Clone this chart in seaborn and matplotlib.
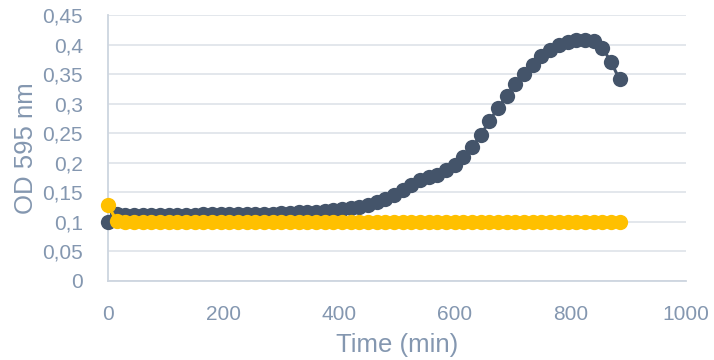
import matplotlib
matplotlib.use("Agg")
import matplotlib.pyplot as plt
import seaborn as sns
import pandas as pd

time_min = [0, 15, 30, 45, 60, 75, 90, 105, 120, 135, 150, 165, 180, 195, 210,
            225, 240, 255, 270, 285, 300, 315, 330, 345, 360, 375, 390, 405, 420, 435,
            450, 465, 480, 495, 510, 525, 540, 555, 570, 585, 600, 615, 630, 645, 660,
            675, 690, 705, 720, 735, 750, 765, 780, 795, 810, 825, 840, 855, 870, 885]

od_dark = [0.100, 0.113, 0.112, 0.112, 0.112, 0.112, 0.112, 0.112, 0.112, 0.112,
           0.112, 0.113, 0.113, 0.113, 0.113, 0.113, 0.113, 0.114, 0.114, 0.114,
           0.115, 0.115, 0.116, 0.116, 0.117, 0.118, 0.120, 0.122, 0.124, 0.126,
           0.129, 0.133, 0.139, 0.146, 0.154, 0.163, 0.171, 0.176, 0.180, 0.188,
           0.197, 0.209, 0.226, 0.247, 0.271, 0.293, 0.313, 0.333, 0.350, 0.366,
           0.380, 0.391, 0.399, 0.405, 0.408, 0.408, 0.406, 0.395, 0.371, 0.341]

od_yellow = [0.128, 0.102, 0.100, 0.099, 0.099, 0.099, 0.099, 0.099, 0.099, 0.099,
             0.099, 0.099, 0.099, 0.099, 0.099, 0.099, 0.099, 0.099, 0.099, 0.099,
             0.099, 0.099, 0.099, 0.099, 0.099, 0.099, 0.099, 0.099, 0.099, 0.099,
             0.099, 0.099, 0.099, 0.099, 0.099, 0.099, 0.099, 0.099, 0.099, 0.099,
             0.099, 0.099, 0.099, 0.099, 0.099, 0.099, 0.099, 0.099, 0.099, 0.099,
             0.099, 0.099, 0.099, 0.099, 0.099, 0.099, 0.099, 0.099, 0.099, 0.099]

y_ticks = [0, 0.05, 0.1, 0.15, 0.2, 0.25, 0.3, 0.35, 0.4, 0.45]
y_tick_labels = ["0", "0,05", "0,1", "0,15", "0,2", "0,25", "0,3", "0,35", "0,4", "0,45"]
x_ticks = [0, 200, 400, 600, 800, 1000]
x_tick_labels = ["0", "200", "400", "600", "800", "1000"]

sns.set_theme(style="white")
plt.rcParams['font.family'] = ['Liberation Sans', 'DejaVu Sans']

text_color = "#8497B0"
dark_color = "#44546A"
yellow_color = "#FFC000"

fig = plt.figure(figsize=(7.14, 3.6), dpi=100)
ax = fig.add_axes([108/714, 1 - 281/360, (686 - 108)/714, (281 - 15)/360])

df_dark = pd.DataFrame({"t": time_min, "od": od_dark})
df_yel = pd.DataFrame({"t": time_min, "od": od_yellow})

sns.lineplot(data=df_dark, x="t", y="od", ax=ax, color=dark_color, marker="o",
             markersize=11, markeredgewidth=0, linewidth=2.2, zorder=3, clip_on=False)
sns.lineplot(data=df_yel, x="t", y="od", ax=ax, color=yellow_color, marker="o",
             markersize=11, markeredgewidth=0, linewidth=2.2, zorder=4, clip_on=False)

ax.set_xlim(0, 1000)
ax.set_ylim(0, 0.45)
ax.set_yticks(y_ticks)
ax.set_yticklabels(y_tick_labels)
ax.set_xticks(x_ticks)
ax.set_xticklabels(x_tick_labels)
ax.yaxis.grid(True, color="#E1E5EB", linewidth=1.3)
ax.xaxis.grid(False)
ax.set_axisbelow(True)

for s in ["top", "right"]:
    ax.spines[s].set_visible(False)
for s in ["left", "bottom"]:
    ax.spines[s].set_color("#CDD5DF")
    ax.spines[s].set_linewidth(1.3)

ax.tick_params(axis="both", colors=text_color, labelsize=15, length=0)
ax.tick_params(axis="y", pad=18)
ax.tick_params(axis="x", pad=17.5)

ax.set_xlabel("Time (min)", color=text_color, fontsize=18.5, labelpad=6)
ax.set_ylabel("OD 595 nm", color=text_color, fontsize=18.5, labelpad=3)

fig.savefig("out.png", dpi=100)
